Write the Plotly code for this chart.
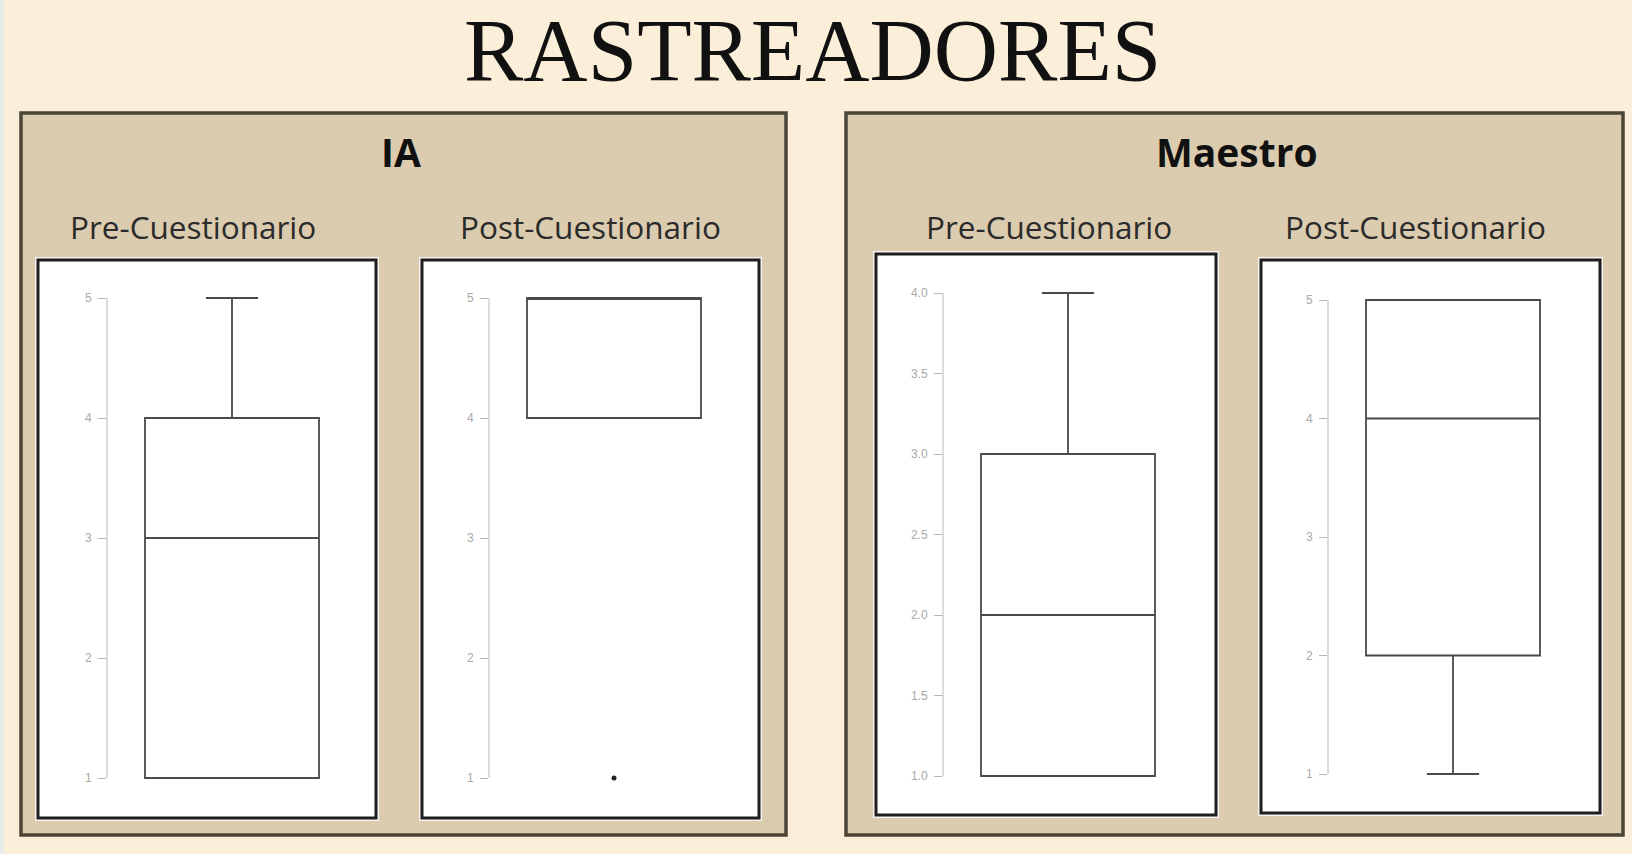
import plotly.graph_objects as go

W, H = 1632, 854

# ---------------- data ----------------
title_text = "RASTREADORES"
group_names = ["IA", "Maestro"]
phase_names = ["Pre-Cuestionario", "Post-Cuestionario"]

# one entry per panel: IA-Pre, IA-Post, Maestro-Pre, Maestro-Post
box_lower = [1, 4, 1, 1]
box_q1 = [1, 4, 1, 2]
box_median = [3, 5, 2, 4]
box_q3 = [4, 5, 3, 5]
box_upper = [5, 5, 4, 5]

# outliers (panel index, value)
outlier_panel = [1]
outlier_value = [1]

ticks_ia_pre = [1, 2, 3, 4, 5]
ticks_ia_post = [1, 2, 3, 4, 5]
ticks_maestro_pre = [1.0, 1.5, 2.0, 2.5, 3.0, 3.5, 4.0]
ticks_maestro_post = [1, 2, 3, 4, 5]
panel_ticks = [ticks_ia_pre, ticks_ia_post, ticks_maestro_pre, ticks_maestro_post]
tick_formats = ["d", "d", ".1f", "d"]

# ---------------- layout geometry (pixels) ----------------
BG = "#fbefd9"
PANEL = "#dbccaf"
PANEL_LINE = "#4b4538"
BOX_LINE = "#4a4a4a"

outer_panels = [(21, 113, 786, 835), (846, 113, 1623, 835)]
frames = [(38, 260, 376, 818), (422, 260, 759, 818), (876, 254, 1216, 815), (1261, 260, 1600, 813)]
axis_px = [107, 489, 943, 1328]
# (value at top tick, px), (value at bottom tick, px)
ymaps = [(5, 298, 1, 778), (5, 298, 1, 778), (4, 293, 1, 776), (5, 300, 1, 774)]
group_title_pos = [(401, 152), (1237, 152)]
sub_pos = [(193, 227), (590, 227), (1049, 227), (1415, 227)]


def px(x):
    return x / W


def py(y):
    return 1 - y / H


fig = go.Figure()
shapes = []
annotations = []

# faint strip on the left edge
shapes.append(dict(type="rect", xref="paper", yref="paper", x0=0, x1=px(4), y0=0, y1=1,
                   fillcolor="#e9ebea", line=dict(width=0), layer="below"))

for (x0, y0, x1, y1) in outer_panels:
    shapes.append(dict(type="rect", xref="paper", yref="paper", x0=px(x0), x1=px(x1),
                       y0=py(y1), y1=py(y0), fillcolor=PANEL,
                       line=dict(color=PANEL_LINE, width=3.5), layer="below"))

for (x0, y0, x1, y1) in frames:
    shapes.append(dict(type="rect", xref="paper", yref="paper", x0=px(x0 - 3), x1=px(x1 + 3),
                       y0=py(y1 + 3), y1=py(y0 - 3), fillcolor="#f4f2ee",
                       line=dict(width=0), layer="below"))
    shapes.append(dict(type="rect", xref="paper", yref="paper", x0=px(x0), x1=px(x1),
                       y0=py(y1), y1=py(y0), fillcolor="white",
                       line=dict(color="#1e1e1e", width=3), layer="below"))

BOX_PX = 174
XSPAN_PX = 250
layout_axes = {}
for i in range(4):
    fx0, fy0, fx1, fy1 = frames[i]
    ax = axis_px[i]
    vt, pt, vb, pb = ymaps[i]
    k = (pb - pt) / (vt - vb)
    dtop, dbot = fy0 + 3, fy1 - 3
    r_top = vt + (pt - dtop) / k
    r_bot = vb - (dbot - pb) / k
    xs = "" if i == 0 else str(i + 1)
    layout_axes["xaxis" + xs] = dict(domain=[px(ax), px(ax + XSPAN_PX)], range=[0, 2],
                                     visible=False, fixedrange=True)
    layout_axes["yaxis" + xs] = dict(domain=[py(dbot), py(dtop)], range=[r_bot, r_top],
                                     anchor="x" + xs, showline=False, showgrid=False,
                                     zeroline=False, ticks="outside", ticklen=8, tickwidth=1,
                                     tickcolor="#b5b5b5", tickvals=panel_ticks[i],
                                     tickformat=tick_formats[i], ticklabelstandoff=4,
                                     tickfont=dict(family="Liberation Sans", size=12, color="#a8a8a8"),
                                     fixedrange=True)
    # axis line spanning only tick range
    shapes.append(dict(type="line", xref="x" + xs + " domain", yref="y" + xs,
                       x0=0, x1=0, y0=min(panel_ticks[i]), y1=max(panel_ticks[i]),
                       line=dict(color="#c8c8c8", width=1.3)))

    fig.add_trace(go.Box(
        x=[1], q1=[box_q1[i]], median=[box_median[i]], q3=[box_q3[i]],
        lowerfence=[box_lower[i]], upperfence=[box_upper[i]],
        width=BOX_PX / (XSPAN_PX / 2), whiskerwidth=0.3,
        fillcolor="rgba(255,255,255,0)", line=dict(color=BOX_LINE, width=1.8),
        boxpoints=False, showlegend=False, xaxis="x" + xs, yaxis="y" + xs,
        hoverinfo="y"))

for pi, val in zip(outlier_panel, outlier_value):
    xs = "" if pi == 0 else str(pi + 1)
    fig.add_trace(go.Scatter(x=[1], y=[val], mode="markers",
                             marker=dict(color="#222222", size=5),
                             showlegend=False, xaxis="x" + xs, yaxis="y" + xs))

# title
annotations.append(dict(text=title_text, xref="paper", yref="paper", x=px(812), y=py(50),
                        xanchor="center", yanchor="middle", showarrow=False, height=88,
                        font=dict(family="Liberation Serif", size=89, color="#111111")))
for g, (gx, gy) in zip(group_names, group_title_pos):
    annotations.append(dict(text="<b>" + g + "</b>", xref="paper", yref="paper", x=px(gx), y=py(gy),
                            xanchor="center", yanchor="middle", showarrow=False,
                            font=dict(family="Open Sans", size=39, color="#111111")))
for i, (sx, sy) in enumerate(sub_pos):
    annotations.append(dict(text=phase_names[i % 2], xref="paper", yref="paper", x=px(sx), y=py(sy),
                            xanchor="center", yanchor="middle", showarrow=False,
                            font=dict(family="Open Sans", size=31.5, color="#2b2b2b")))

fig.update_layout(width=W, height=H, margin=dict(l=0, r=0, t=0, b=0),
                  paper_bgcolor=BG, plot_bgcolor="rgba(0,0,0,0)",
                  shapes=shapes, annotations=annotations, showlegend=False,
                  **layout_axes)

fig.write_html("out.html", config=dict(displayModeBar=False))
